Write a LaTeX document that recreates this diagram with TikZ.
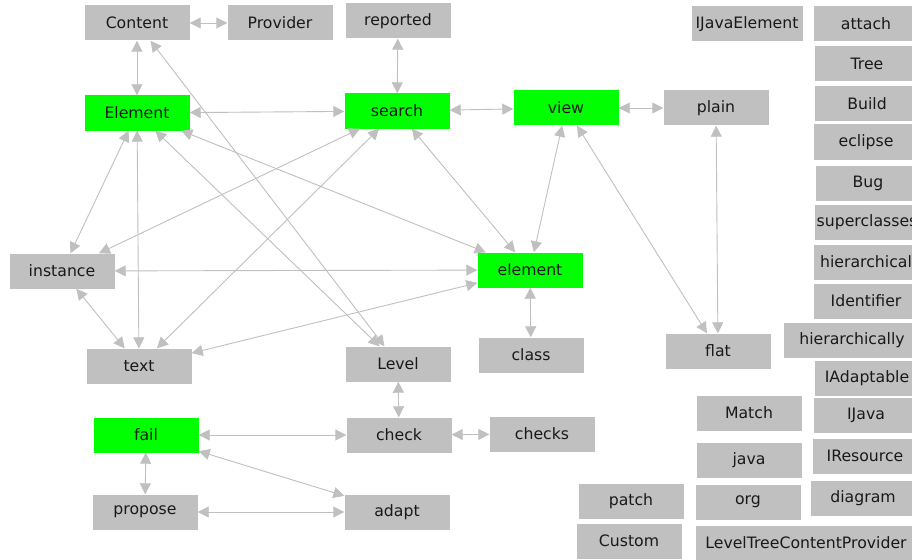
\documentclass[tikz,border=0pt]{standalone}
\usepackage{fontspec}
\setmainfont{DejaVu Sans}
\usetikzlibrary{arrows.meta}
\definecolor{boxgrey}{RGB}{192,192,192}
\definecolor{hotgreen}{RGB}{0,255,0}

\begin{document}
\begin{tikzpicture}[>={Triangle[length=11pt,width=11pt]}, x=1pt, y=-1pt]
    \tikzstyle{word} = [fill=boxgrey, minimum width=105pt, minimum height=35pt,
	inner sep=0pt, text=black!90, font=\fontsize{15.7}{18}\selectfont]
    \tikzstyle{hot} = [word, fill=hotgreen]
    \tikzstyle{link} = [<->, draw=boxgrey, line width=0.9pt]

    \useasboundingbox (0,0) rectangle (912,559);
    \fill[white] (0,0) rectangle (912,559);
    \clip (0,0) rectangle (912,559);

	\begin{scope}
		\path
			node[word] (Content) at (137,23) {Content}
			node[word] (Provider) at (280,23) {Provider}
			node[word] (reported) at (398,21) {reported}
			node[hot] (Element) at (137,113) {Element}
			node[hot] (search) at (397,111) {search}
			node[hot] (view) at (566,108) {view}
			node[word] (plain) at (716,108) {plain}

			node[word] (instance) at (62,271) {instance}
			node[hot] (element) at (530,270) {element}
			node[word] (text) at (139,366) {text}
			node[word] (Level) at (398,364) {Level}
			node[word] (class) at (531,355) {class}
			node[word] (flat) at (718,351) {flat}

			node[hot] (fail) at (146,435) {fail}
			node[word] (check) at (399,435) {check}
			node[word] (checks) at (542,434) {checks}
			node[word] (propose) at (145,512) {propose}
			node[word] (adapt) at (397,512) {adapt}

			(Content) edge[link] (Provider)
			(Content) edge[link] (Element)
			(Content) edge[link] (Level)
			(reported) edge[link] (search)
			(Element) edge[link] (search)
			(search) edge[link] (view)
			(view) edge[link] (plain)

			(Element) edge[link] (instance)
			(Element) edge[link] (text)
			(Element) edge[link] (Level)
			(Element) edge[link] (element)
			(search) edge[link] (instance)
			(search) edge[link] (text)
			(search) edge[link] (element)
			(view) edge[link] (element)
			(view) edge[link] (flat)
			(plain) edge[link] (flat)

			(instance) edge[link] (element)
			(instance) edge[link] (text)
			(element) edge[link] (text)
			(element) edge[link] (class)

			(Level) edge[link] (check)
			(check) edge[link] (checks)
			(fail) edge[link] (check)
			(fail) edge[link] (adapt)
			(fail) edge[link] (propose)
			(propose) edge[link] (adapt)
		;
	\end{scope}

	% words with no links
	\begin{scope}
		\path
			node[word, minimum width=111pt] (IJavaElement) at (747,24) {IJavaElement}
			node[word] (attach) at (866,24) {attach}
			node[word] (Tree) at (867,64) {Tree}
			node[word] (Build) at (867,104) {Build}
			node[word] (eclipse) at (866,142) {eclipse}
			node[word] (Bug) at (868,183) {Bug}
			node[word] (superclasses) at (867,222) {superclasses}
			node[word] (hierarchical) at (866,262) {hierarchical}
			node[word] (Identifier) at (866,301) {Identifier}
			node[word, minimum width=136pt] (hierarchically) at (852,340) {hierarchically}
			node[word] (IAdaptable) at (867,378) {IAdaptable}
			node[word] (IJava) at (866,415) {IJava}
			node[word] (IResource) at (865,456) {IResource}
			node[word] (diagram) at (863,498) {diagram}

			node[word] (Match) at (749,413) {Match}
			node[word] (java) at (749,460) {java}
			node[word] (org) at (748,502) {org}
			node[word, minimum width=220pt] (LevelTreeContentProvider) at (806,543) {LevelTreeContentProvider}
			node[word] (patch) at (631,501) {patch}
			node[word] (Custom) at (629,541) {Custom}
		;
	\end{scope}
\end{tikzpicture}
\end{document}
